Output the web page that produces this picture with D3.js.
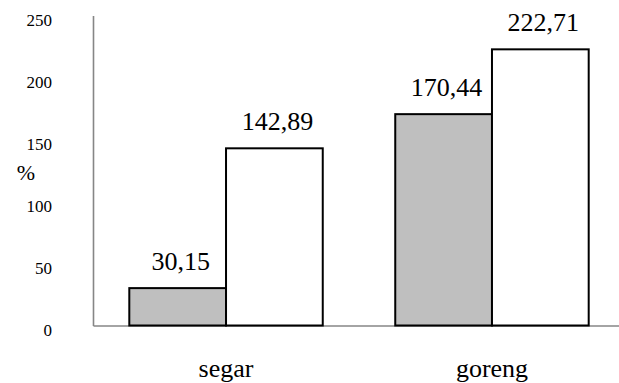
<!DOCTYPE html>
<html>
<head>
<meta charset="utf-8">
<script src="https://cdn.jsdelivr.net/npm/d3@7"></script>
</head>
<body style="margin:0; background:#fff">
<svg id="fig" width="619" height="383"></svg>
<script>
// Categories and the two series per category
const categories = ["segar", "goreng"];
const seriesNames = ["A", "B"];
const valuesA = [30.15, 170.44];
const valuesB = [142.89, 222.71];
const valueLabelsA = ["30,15", "170,44"];
const valueLabelsB = ["142,89", "222,71"];
const yTicks = [0, 50, 100, 150, 200, 250];
const yTitle = "%";

const fills = { A: "#bfbfbf", B: "#ffffff" };
const textFont = "'Liberation Serif'";

const svg = d3.select("#fig")
  .style("display", "block")
  .style("font-family", textFont, "important");
const plotLeft = 93, plotRight = 625, plotTop = 15.5, plotBottom = 325.5;

const x = d3.scaleBand()
  .domain(categories)
  .range([plotLeft, plotRight])
  .paddingInner(0.2726)
  .paddingOuter(0.1365);

const xs = d3.scaleBand()
  .domain(seriesNames)
  .range([0, x.bandwidth()])
  .padding(0);

const y = d3.scaleLinear().domain([0, 250]).range([plotBottom, plotTop]);

// Axes (no tick marks, gray axis lines)
const yAxis = svg.append("g")
  .attr("transform", `translate(${plotLeft},0)`)
  .call(d3.axisLeft(y).tickValues(yTicks).tickSize(0).tickSizeOuter(0).tickFormat(d3.format("d")))
  .attr("font-family", null);
yAxis.select(".domain").attr("stroke", "#868686").attr("stroke-width", 1.6);
yAxis.selectAll(".tick text")
  .attr("x", -41)
  .attr("dy", null)
  .attr("y", 10)
  .attr("text-anchor", "end")
  .attr("fill", "#000")
  .style("font-family", textFont, "important")
  .style("font-size", "17px");

const xAxis = svg.append("g")
  .attr("transform", `translate(0,${plotBottom})`)
  .call(d3.axisBottom(x).tickSize(0).tickSizeOuter(0))
  .attr("font-family", null);
xAxis.select(".domain").attr("stroke", "#868686").attr("stroke-width", 1.6);
xAxis.selectAll(".tick text")
  .attr("y", 51)
  .attr("dy", null)
  .attr("fill", "#000")
  .style("font-family", textFont, "important")
  .style("font-size", "26px");

// Y axis title
svg.append("text")
  .attr("x", 26)
  .attr("y", 180)
  .attr("text-anchor", "middle")
  .style("font-family", textFont, "important")
  .style("font-size", "22px")
  .text(yTitle);

// Bars
const rows = [];
categories.forEach((c, i) => {
  rows.push({ cat: c, s: "A", v: valuesA[i], label: valueLabelsA[i] });
  rows.push({ cat: c, s: "B", v: valuesB[i], label: valueLabelsB[i] });
});

svg.append("g").selectAll("rect")
  .data(rows)
  .join("rect")
  .attr("x", d => x(d.cat) + xs(d.s))
  .attr("y", d => y(d.v))
  .attr("width", xs.bandwidth())
  .attr("height", d => y(0) - y(d.v))
  .attr("fill", d => fills[d.s])
  .attr("stroke", "#000")
  .attr("stroke-width", 2);

// Value labels
svg.append("g").selectAll("text")
  .data(rows)
  .join("text")
  .attr("x", d => x(d.cat) + xs(d.s) + xs.bandwidth() / 2 + 3)
  .attr("y", d => y(d.v) - 18.5)
  .attr("text-anchor", "middle")
  .style("font-family", textFont, "important")
  .style("font-size", "26px")
  .text(d => d.label);
</script>
</body>
</html>
